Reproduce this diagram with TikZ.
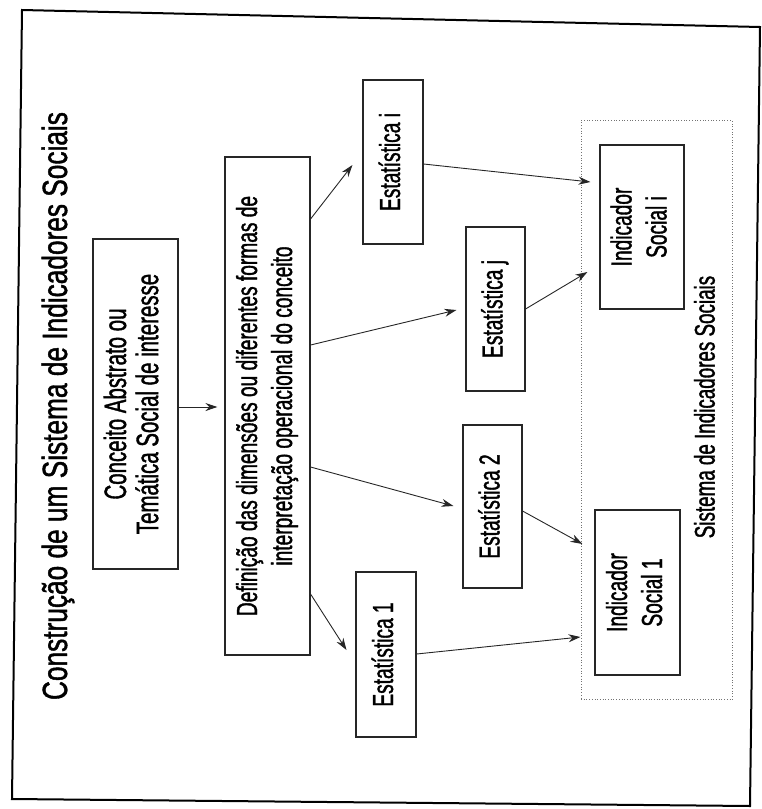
\documentclass[tikz,border=0pt]{standalone}
\usepackage{fontspec}
\setmainfont{Liberation Sans}[FakeStretch=0.66, FakeBold=1.2]
\newfontfamily\titlefamily{Liberation Sans}[FakeStretch=0.75, FakeBold=1.2]
\usetikzlibrary{arrows.meta,calc}

% text turned a quarter turn, read from bottom to top
\newcommand{\uptext}[1]{\rotatebox{90}{\begin{tabular}{@{}c@{}}#1\end{tabular}}}

\begin{document}
\begin{tikzpicture}[x=1pt,y=-1pt,
  box/.style={draw=black!85, line width=1.1pt, inner sep=0pt, fill=white,
              font=\fontsize{29}{35}\selectfont},
  group/.style={draw=black!55, line width=0.7pt, dotted, inner sep=0pt},
  lbl/.style={inner sep=0pt},
  link/.style={draw=black!85, line width=0.9pt, -{Stealth[length=12pt,width=8pt]}},
  frameline/.style={draw=black, line width=2pt}]

\useasboundingbox (0,0) rectangle (761,809);

% outer frame
\draw[frameline] (22,10) -- (760,27) -- (750,806) -- (12,799) -- cycle;

% title
\node[lbl, font=\titlefamily\fontsize{35}{40}\selectfont] (title) at (59,406)
  {\uptext{Construção de um Sistema de Indicadores Sociais}};

% system of indicators (dotted group)
\node[group, minimum width=151pt, minimum height=579pt] (sistema) at (656.5,410) {};
\node[lbl, font=\fontsize{28.5}{33}\selectfont] (sistemalbl) at (708,407)
  {\uptext{Sistema de Indicadores Sociais}};

% boxes
\node[box, font=\fontsize{31}{31}\selectfont, minimum width=85pt, minimum height=330pt]
  (conceito) at (135.5,404) {\uptext{Conceito Abstrato ou\\Temática Social de interesse}};
\node[box, minimum width=85pt, minimum height=498pt]
  (defin) at (267.5,406) {\uptext{Definição das dimensões ou diferentes formas de\\interpretação operacional do conceito}};

\node[box, minimum width=60pt, minimum height=164pt] (esti) at (393,162) {\uptext{Estatística i}};
\node[box, minimum width=59pt, minimum height=164pt] (estj) at (495.5,309) {\uptext{Estatística j}};
\node[box, minimum width=59pt, minimum height=163pt] (est2) at (492.5,506.5) {\uptext{Estatística 2}};
\node[box, minimum width=60pt, minimum height=165pt] (est1) at (386,654.5) {\uptext{Estatística 1}};

\node[box, minimum width=84pt, minimum height=164pt] (indi) at (642,227) {\uptext{Indicador\\Social i}};
\node[box, minimum width=85pt, minimum height=165pt] (ind1) at (637.5,592.5) {\uptext{Indicador\\Social 1}};

% connectors
\draw[link] (conceito.east |- 0,407) -- ($(defin.west |- 0,407)+(-7,0)$);

\draw[link] (defin.east |- 0,219) -- ($(esti.west |- 0,165)+(-10,0)$);
\draw[link] (defin.east |- 0,345) -- ($(estj.west |- 0,310)+(-9,0)$);
\draw[link] (defin.east |- 0,467) -- ($(est2.west |- 0,506)+(-9,0)$);
\draw[link] (defin.east |- 0,594) -- ($(est1.west |- 0,650)+(-9,0)$);

\draw[link] (esti.east |- 0,164) -- ($(indi.west |- 0,182)+(-9,0)$);
\draw[link] (estj.east |- 0,309) -- ($(indi.west |- 0,272)+(-12,0)$);
\draw[link] (est2.east |- 0,511) -- ($(ind1.west |- 0,544)+(-12,0)$);
\draw[link] (est1.east |- 0,654) -- ($(ind1.west |- 0,637)+(-14,0)$);

\end{tikzpicture}
\end{document}
